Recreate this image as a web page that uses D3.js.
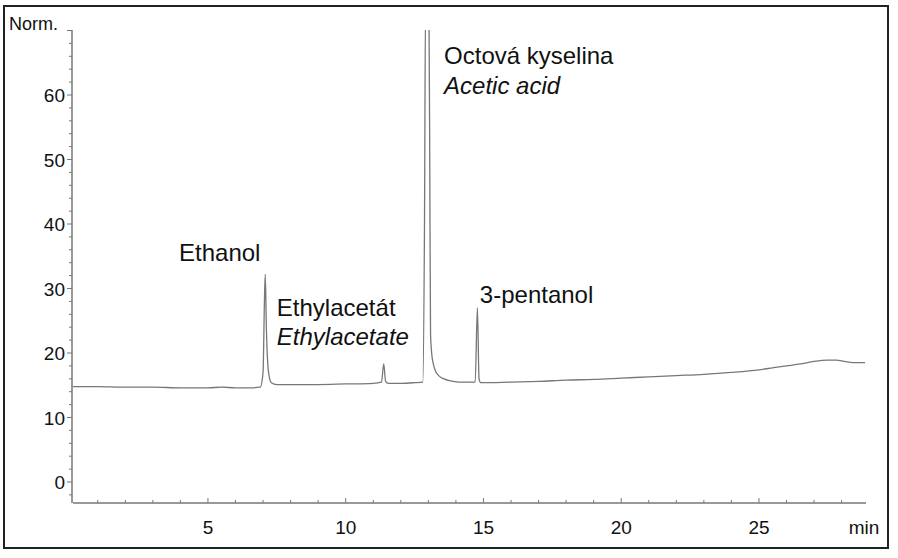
<!DOCTYPE html>
<html><head><meta charset="utf-8">
<script src="https://cdn.jsdelivr.net/npm/d3@7"></script>
<style>body{margin:0;background:#fff}text{font-family:"Liberation Sans",Arial,sans-serif;fill:#111}</style>
</head><body><svg id="c" width="898" height="558"></svg>
<script>
const times=[0.1,1,2,3,4,5,5.5,6,6.5,6.9,7.0,7.05,7.08,7.12,7.2,7.3,7.5,8,9,10,11,11.3,11.38,11.45,11.55,11.7,12,12.5,12.8,12.86,12.9,13.02,13.06,13.08,13.12,13.18,13.25,13.35,13.5,13.7,13.9,14.1,14.5,14.7,14.78,14.84,14.9,15,16,17,18,19,20,21,22,23,24,25,25.5,26,26.5,27,27.5,27.8,28.1,28.4,28.85];
const values=[14.8,14.8,14.7,14.7,14.6,14.6,14.7,14.6,14.6,14.7,17,28,32.2,24,17,15.4,15.1,15.1,15.1,15.2,15.3,15.5,18.3,15.6,15.3,15.3,15.3,15.4,15.5,40,75,75,40,23,20,18.3,17.3,16.6,16.1,15.8,15.6,15.5,15.5,15.5,27,16,15.4,15.4,15.5,15.6,15.8,15.9,16.1,16.3,16.5,16.7,17.0,17.4,17.7,18.0,18.3,18.7,18.9,18.9,18.7,18.5,18.5];
const xTicks=[5,10,15,20,25];
const yTicks=[0,10,20,30,40,50,60];
const labels=[
 {t:"Ethanol",x:3.95,y:34.3,it:false},
 {t:"Ethylacetát",x:7.5,y:25.8,it:false},
 {t:"Ethylacetate",x:7.5,y:21.2,it:true},
 {t:"Octová kyselina",x:13.57,y:64.8,it:false},
 {t:"Acetic acid",x:13.57,y:60.2,it:true},
 {t:"3-pentanol",x:14.87,y:27.8,it:false}
];
const svg=d3.select("#c");
svg.append("rect").attr("x",4).attr("y",6).attr("width",884).attr("height",542).attr("fill","none").attr("stroke","#222").attr("stroke-width",2);
const x=d3.scaleLinear().domain([0,28.9]).range([70.2,866.4]);
const y=d3.scaleLinear().domain([0,70]).range([482,30.5]);
const col="#777";
svg.append("clipPath").attr("id","cp").append("rect").attr("x",73).attr("y",30).attr("width",794).attr("height",473);
const line=d3.line().x((d,i)=>x(times[i])).y(d=>y(d)).curve(d3.curveMonotoneX);
svg.append("path").attr("d",line(values)).attr("fill","none").attr("stroke",col).attr("stroke-width",1.3).attr("clip-path","url(#cp)");
const xa=svg.append("g").attr("transform","translate(0,503)");
xa.append("line").attr("x1",73).attr("x2",866).attr("stroke",col).attr("stroke-width",1.5);
xa.selectAll(".mn").data(d3.range(1,29)).join("line").attr("x1",d=>x(d)).attr("x2",d=>x(d)).attr("y1",0).attr("y2",d=>d%5?-3:-5).attr("stroke",col);
xa.selectAll("text").data(xTicks).join("text").attr("x",d=>x(d)).attr("y",31).attr("text-anchor","middle").attr("font-size",19).text(d=>d);
svg.append("text").attr("x",864).attr("y",534).attr("text-anchor","middle").attr("font-size",19).text("min");
const ya=svg.append("g").attr("transform","translate(72,0)");
ya.append("line").attr("y1",30).attr("y2",503).attr("stroke",col).attr("stroke-width",1.5);
ya.selectAll(".mn").data(d3.range(-2,71,2)).join("line").attr("y1",d=>y(d)).attr("y2",d=>y(d)).attr("x1",0).attr("x2",d=>d%10?-3:-5).attr("stroke",col);
ya.selectAll("text").data(yTicks).join("text").attr("x",-7).attr("y",d=>y(d)+7).attr("text-anchor","end").attr("font-size",19).text(d=>d);
svg.append("text").attr("x",9).attr("y",30).attr("font-size",18).text("Norm.");
svg.selectAll(".lb").data(labels).join("text").attr("x",d=>x(d.x)).attr("y",d=>y(d.y)).attr("text-anchor","start")
 .attr("font-size",24).attr("font-style",d=>d.it?"italic":"normal").text(d=>d.t);
</script></body></html>
